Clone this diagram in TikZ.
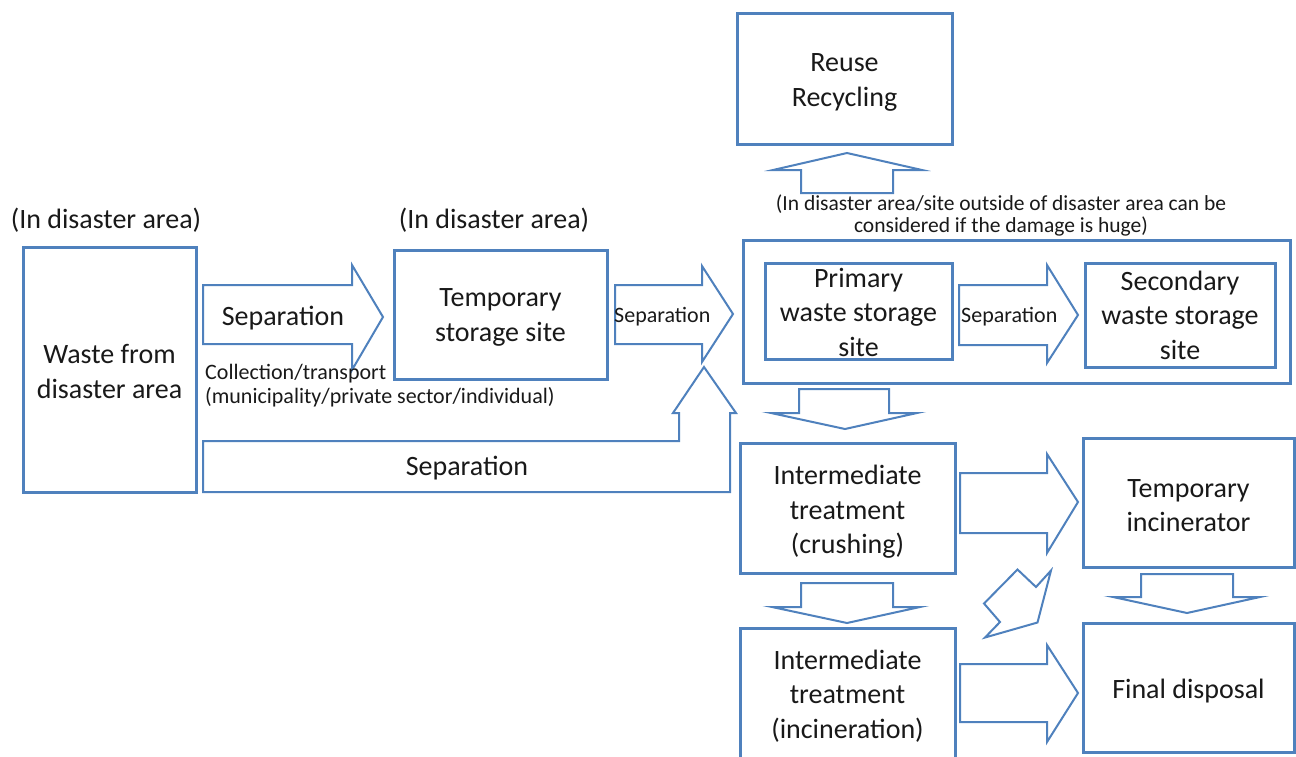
\documentclass[tikz,border=0pt]{standalone}
\usepackage{fontspec}
\setmainfont{Carlito}
\definecolor{outline}{RGB}{79,129,189}
\definecolor{ink}{RGB}{25,25,25}
\newcommand\fbig{\fontsize{28}{34.5}\selectfont}
\newcommand\fsmall{\fontsize{22}{24}\selectfont}
\newcommand\fnote{\fontsize{21.5}{22}\selectfont}
\begin{document}
\begin{tikzpicture}[x=1pt,y=-1pt,
  box/.style={draw=outline, line width=3pt, fill=white, inner sep=0pt},
  arr/.style={draw=outline, line width=2pt, fill=white, line join=miter},
  lbl/.style={inner sep=0pt, text=ink, font=\fbig, align=center},
  slbl/.style={inner sep=0pt, text=ink, font=\fsmall, align=left}]
\useasboundingbox (0,0) rectangle (1296,756);

% storage sites and treatment stages
\node[box, minimum width=173pt, minimum height=245pt] (waste) at (109.5,369.5) {};
\node[box, minimum width=213pt, minimum height=129pt] (tmpstore) at (500.5,314.5) {};
\node[box, minimum width=215pt, minimum height=131pt] (reuse) at (844.5,78.5) {};
\node[box, minimum width=547pt, minimum height=143pt] (storage) at (1016.5,311.5) {};
\node[box, minimum width=187pt, minimum height=96pt] (primary) at (858.5,311) {};
\node[box, minimum width=190pt, minimum height=104pt] (secondary) at (1180,315) {};
\node[box, minimum width=215pt, minimum height=130pt] (crush) at (847.5,508) {};
\node[box, minimum width=215pt, minimum height=134pt] (incin) at (847.5,695) {};
\node[box, minimum width=211pt, minimum height=129pt] (tmpinc) at (1188.5,502.5) {};
\node[box, minimum width=211pt, minimum height=129pt] (final) at (1188.5,687.5) {};

% box texts
\node[lbl] (wasteT) at ([yshift=-2pt]waste.center) {Waste from\\disaster area};
\node[lbl] (tmpstoreT) at ([yshift=-3pt]tmpstore.center) {Temporary\\storage site};
\node[lbl] (reuseT) at ([yshift=-4pt]reuse.center) {Reuse\\Recycling};
\node[lbl] (primaryT) at ([yshift=-1pt]primary.center) {Primary\\waste storage\\site};
\node[lbl] (secondaryT) at ([yshift=0pt]secondary.center) {Secondary\\waste storage\\site};
\node[lbl] (crushT) at ([yshift=-4pt]crush.center) {Intermediate\\treatment\\(crushing)};
\node[lbl] (incinT) at ([yshift=-1pt]incin.center) {Intermediate\\treatment\\(incineration)};
\node[lbl] (tmpincT) at ([yshift=-3pt]tmpinc.center) {Temporary\\incinerator};
\node[lbl] (finalT) at ([yshift=-4pt]final.center) {Final disposal};

% block arrows pointing right
\draw[arr] (203,285) -- (352,285) -- (352,265) -- (383,317) -- (352,370) -- (352,344) -- (203,344) -- cycle;
\draw[arr] (615,285) -- (702,285) -- (702,266) -- (733,314) -- (702,362) -- (702,344) -- (615,344) -- cycle;
\draw[arr] (959,285) -- (1047,285) -- (1047,265) -- (1078,315) -- (1047,363) -- (1047,345) -- (959,345) -- cycle;
\draw[arr] (960,473) -- (1047,473) -- (1047,454) -- (1078,502) -- (1047,553) -- (1047,533) -- (960,533) -- cycle;
\draw[arr] (960,664) -- (1047,664) -- (1047,645) -- (1078,693) -- (1047,742) -- (1047,722) -- (960,722) -- cycle;

% flat block arrows pointing down / up
\draw[arr] (799,389) -- (889,389) -- (889,413) -- (917,413) -- (845,429) -- (771,413) -- (799,413) -- cycle;
\draw[arr] (801,583) -- (893,583) -- (893,607) -- (920,607) -- (847,623) -- (772,607) -- (801,607) -- cycle;
\draw[arr] (1141,574) -- (1233,574) -- (1233,597) -- (1260,597) -- (1187,613) -- (1113,597) -- (1141,597) -- cycle;
\draw[arr] (801,193) -- (893,193) -- (893,170) -- (922,170) -- (847,153) -- (773,170) -- (801,170) -- cycle;

% tilted arrow between the treatment stages
\draw[arr] (1017.5,569.5) -- (1036,587) -- (1051,570.5) -- (1037.5,622.5) -- (985,637.5) -- (1000,622) -- (984,603.5) -- cycle;

% long bent arrow under the temporary storage site
\draw[arr] (203,441) -- (679,441) -- (679,413) -- (673,413) -- (704,367) -- (736,413) -- (730,413) -- (730,492) -- (203,492) -- cycle;

% labels
\node[lbl] (area1) at (106,220) {(In disaster area)};
\node[lbl] (area2) at (494,220) {(In disaster area)};
\node[lbl] (sep1) at (283,318) {Separation};
\node[lbl] (sep4) at (467,468) {Separation};
\node[slbl, anchor=west] (sep2) at (614,317) {Separation};
\node[slbl, anchor=west] (sep3) at (961,317) {Separation};
\node[slbl, anchor=west] (collect) at (205,386) {Collection/transport\\(municipality/private sector/individual)};
\node[inner sep=0pt, text=ink, font=\fnote, align=center] (note) at (1001,215)
  {(In disaster area/site outside of disaster area can be\\considered if the damage is huge)};
\end{tikzpicture}
\end{document}
